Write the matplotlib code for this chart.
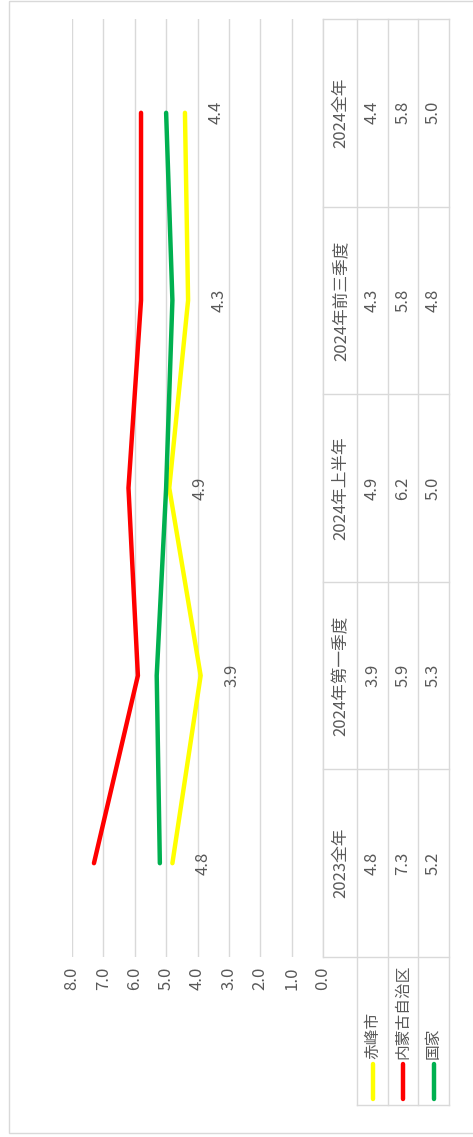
import matplotlib.pyplot as plt
from matplotlib.patches import Rectangle

plt.rcParams['font.family'] = ['Noto Sans CJK SC', 'DejaVu Sans']

# data
categories = ['2023全年', '2024年第一季度', '2024年上半年', '2024年前三季度', '2024全年']
series_names = ['赤峰市', '内蒙古自治区', '国家']
chifeng = [4.8, 3.9, 4.9, 4.3, 4.4]
neimenggu = [7.3, 5.9, 6.2, 5.8, 5.8]
guojia = [5.2, 5.3, 5.0, 4.8, 5.0]
value_ticks = [0, 1, 2, 3, 4, 5, 6, 7, 8]

series = [chifeng, neimenggu, guojia]
colors = ['#FFFF00', '#FF0000', '#00B050']
grid_c = '#D9D9D9'
text_c = '#595959'
fs = 12

W, H = 473, 1137
fig = plt.figure(figsize=(W / 100, H / 100), dpi=100)

# overlay in pixel units (frame + data table)
bg = fig.add_axes([0, 0, 1, 1])
bg.set_xlim(0, W)
bg.set_ylim(H, 0)
bg.axis('off')
bg.add_patch(Rectangle((9, 1), W, 1132, fill=False, ec=grid_c, lw=1, clip_on=False))

# plot area, chart is turned on its side: value runs right->left
px0, px1 = 72, 323
py0, py1 = 19, 957
ax = fig.add_axes([px0 / W, 1 - py1 / H, (px1 - px0) / W, (py1 - py0) / H])
ax.set_xlim(value_ticks[-1], value_ticks[0])
ax.set_ylim(-0.5, len(categories) - 0.5)
ax.axis('off')

for v in value_ticks:
    ax.axvline(v, color=grid_c, lw=1, zorder=0)
    ax.annotate('%.1f' % v, xy=(v, -0.5), xytext=(0, -21), textcoords='offset pixels',
                rotation=90, ha='center', va='center', fontsize=fs, color=text_c,
                annotation_clip=False)

pos = list(range(len(categories)))
for vals, c in zip(series, colors):
    ax.plot(vals, pos, color=c, lw=3.2, solid_capstyle='round', solid_joinstyle='miter',
            clip_on=False, zorder=3)

# data labels for 赤峰市
for v, p in zip(chifeng, pos):
    ax.annotate('%.1f' % v, xy=(v, p), xytext=(31, 0), textcoords='offset pixels',
                rotation=90, ha='center', va='center', fontsize=fs, color=text_c)

# data table
row_x = [323, 357, 388, 418, 449]
leg_bottom = 1105
colw = (py1 - py0) / len(categories)
edges = [py0 + k * colw for k in range(len(categories) + 1)]

bg.plot([row_x[0], row_x[0]], [py0, py1], color=grid_c, lw=1)
for x in row_x[1:]:
    bg.plot([x, x], [py0, leg_bottom], color=grid_c, lw=1)
for y in edges:
    bg.plot([row_x[0], row_x[-1]], [y, y], color=grid_c, lw=1)
bg.plot([row_x[1], row_x[-1]], [leg_bottom, leg_bottom], color=grid_c, lw=1)

hx = (row_x[0] + row_x[1]) / 2
for i, cat in enumerate(categories):
    yc = py1 - (i + 0.5) * colw
    bg.text(hx + 1, yc, cat, rotation=90, ha='center', va='center', fontsize=fs, color=text_c)
    for j, vals in enumerate(series):
        xc = (row_x[j + 1] + row_x[j + 2]) / 2
        bg.text(xc, yc, '%.1f' % vals[i], rotation=90, ha='center', va='center',
                fontsize=fs, color=text_c)

for j, (name, c) in enumerate(zip(series_names, colors)):
    xc = (row_x[j + 1] + row_x[j + 2]) / 2
    bg.plot([xc, xc], [1064, 1099], color=c, lw=3.2, solid_capstyle='round')
    bg.text(xc, 1059, name, rotation=90, ha='center', va='bottom', fontsize=11.3,
            color=text_c)

fig.savefig('out.png', dpi=100)
